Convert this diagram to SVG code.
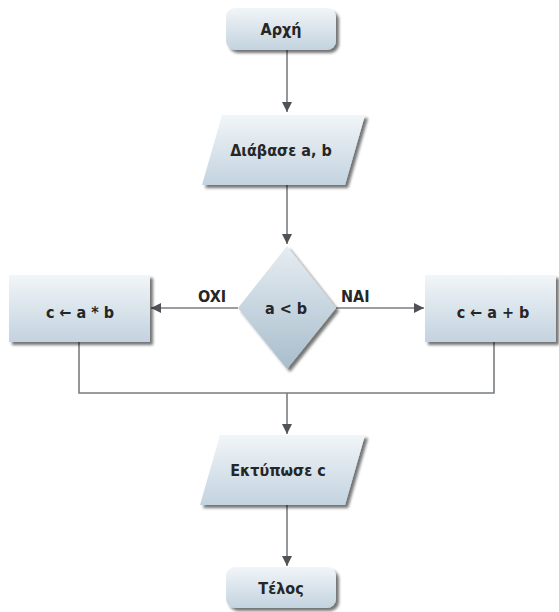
<svg xmlns="http://www.w3.org/2000/svg" width="559" height="612" viewBox="0 0 559 612">
<defs>
<linearGradient id="g" x1="0" y1="0" x2="0" y2="1">
<stop offset="0" stop-color="#f1f5f8"/>
<stop offset="1" stop-color="#c3d3df"/>
</linearGradient>
<linearGradient id="gd" x1="0" y1="0" x2="0" y2="1">
<stop offset="0" stop-color="#e6edf2"/>
<stop offset="1" stop-color="#a8bdcc"/>
</linearGradient>
<filter id="sh" x="-10%" y="-10%" width="130%" height="140%">
<feGaussianBlur in="SourceAlpha" stdDeviation="1.5"/>
<feOffset dx="3" dy="3" result="b"/>
<feComponentTransfer><feFuncA type="linear" slope="0.55"/></feComponentTransfer>
<feMerge><feMergeNode/><feMergeNode in="SourceGraphic"/></feMerge>
</filter>
<marker id="ah" viewBox="0 0 10 10" refX="10" refY="5" markerWidth="10" markerHeight="10" markerUnits="userSpaceOnUse" orient="auto">
<path d="M0,0 L10,5 L0,10 z" fill="#4f5256"/>
</marker>
</defs>
<style>
.n{fill:url(#g);filter:url(#sh);}
.d{fill:url(#gd);filter:url(#sh);}
.t{font-family:"DejaVu Sans Condensed","DejaVu Sans",sans-serif;font-size:16px;font-weight:bold;fill:#262626;text-anchor:middle;dominant-baseline:central;}
.l{font-family:"DejaVu Sans Condensed","DejaVu Sans",sans-serif;font-size:16px;font-weight:bold;fill:#262626;}
.c{fill:none;stroke:#7a7d80;stroke-width:1.6;}
.a{marker-end:url(#ah);}
</style>
<g id="connectors">
<line class="c a" x1="287" y1="50" x2="287" y2="112"/>
<line class="c a" x1="287" y1="185" x2="287" y2="244"/>
<line class="c a" x1="238" y1="308" x2="151" y2="308"/>
<line class="c a" x1="336" y1="308" x2="424" y2="308"/>
<polyline class="c" points="79,342 79,393 494,393 494,342"/>
<line class="c a" x1="287" y1="393" x2="287" y2="434"/>
<line class="c a" x1="287" y1="505" x2="287" y2="566"/>
<text class="l" x="198" y="302">OXI</text>
<text class="l" x="341" y="302">NAI</text>
</g>
<g id="start">
<rect class="n" x="226" y="8" width="110" height="42" rx="9"/>
<text class="t" x="281" y="29">Αρχή</text>
</g>
<g id="read">
<polygon class="n" points="222,115 365,115 345,185 202,185"/>
<text class="t" x="281" y="150">Διάβασε a, b</text>
</g>
<g id="decision">
<polygon class="d" points="287,246 336,308 287,369 238,308"/>
<text class="t" x="286" y="308">a &lt; b</text>
</g>
<g id="mul">
<rect class="n" x="9" y="275" width="141" height="67"/>
<text class="t" x="80" y="312">c ← a * b</text>
</g>
<g id="add">
<rect class="n" x="425" y="275" width="131" height="67"/>
<text class="t" x="493" y="312">c ← a + b</text>
</g>
<g id="print">
<polygon class="n" points="220,435 365,435 345,505 200,505"/>
<text class="t" x="278" y="470">Εκτύπωσε c</text>
</g>
<g id="end">
<rect class="n" x="226" y="567" width="110" height="41" rx="9"/>
<text class="t" x="281" y="588">Τέλος</text>
</g>
</svg>
